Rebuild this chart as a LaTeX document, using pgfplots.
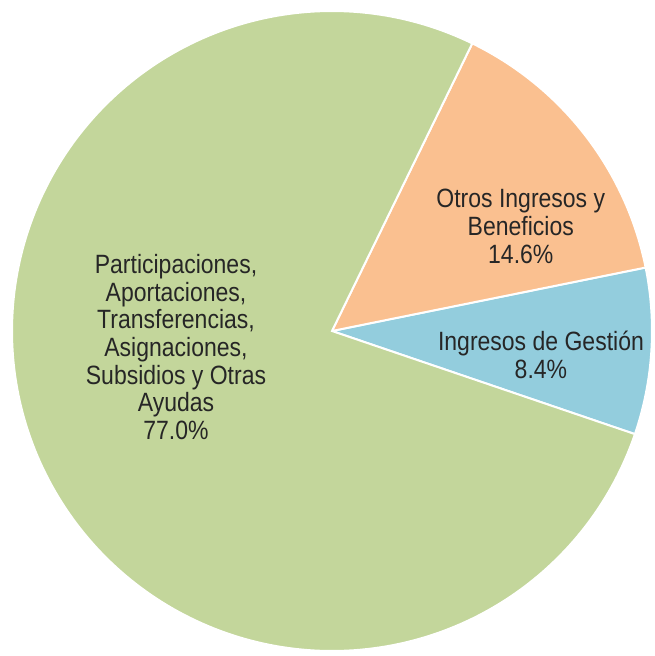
\documentclass[border=0pt]{standalone}
\usepackage{fontspec}
\setmainfont{Liberation Sans}
\usepackage{pgfplots}
\pgfplotsset{compat=1.18}
\definecolor{cgreen}{HTML}{C3D69B}
\definecolor{corange}{HTML}{FAC090}
\definecolor{cblue}{HTML}{93CDDD}
\definecolor{ctext}{HTML}{262626}
\begin{document}
\begin{tikzpicture}
% shares in percent
\def\vGestion{8.4}
\def\vOtros{14.6}
\def\vPart{77.0}
\pgfmathsetmacro\aS{-18.8}
\pgfmathsetmacro\aA{\aS+\vGestion*3.6}
\pgfmathsetmacro\aB{\aA+\vOtros*3.6}
\pgfmathsetmacro\aC{\aB+\vPart*3.6}
\begin{axis}[
  scale only axis,
  width=655bp, height=656bp,
  xmin=-1.0375, xmax=1.0094,
  ymin=-1.0156, ymax=1.0344,
  hide axis,
  clip=false,
]
\path (rel axis cs:0,0) rectangle (rel axis cs:1,1);
\addplot[fill=cblue, draw=white, line width=2bp, domain=\aS:\aA, samples=40, variable=\t]
  ({cos(t)},{sin(t)}) -- (axis cs:0,0) -- cycle;
\addplot[fill=corange, draw=white, line width=2bp, domain=\aA:\aB, samples=60, variable=\t]
  ({cos(t)},{sin(t)}) -- (axis cs:0,0) -- cycle;
\addplot[fill=cgreen, draw=white, line width=2bp, domain=\aB:\aC, samples=240, variable=\t]
  ({cos(t)},{sin(t)}) -- (axis cs:0,0) -- cycle;
\tikzset{lbl/.style={align=center, text=ctext, yscale=1.15, transform shape,
  font=\fontsize{23bp}{24bp}\selectfont}}
\node[lbl] at (axis cs:-0.4875,-0.05)
  {Participaciones,\\Aportaciones,\\Transferencias,\\Asignaciones,\\Subsidios y Otras\\Ayudas\\77.0\%};
\node[lbl] at (axis cs:0.59,0.327)
  {Otros Ingresos y\\Beneficios\\14.6\%};
\node[lbl] at (axis cs:0.653,-0.075)
  {Ingresos de Gestión\\8.4\%};
\end{axis}
\end{tikzpicture}
\end{document}
